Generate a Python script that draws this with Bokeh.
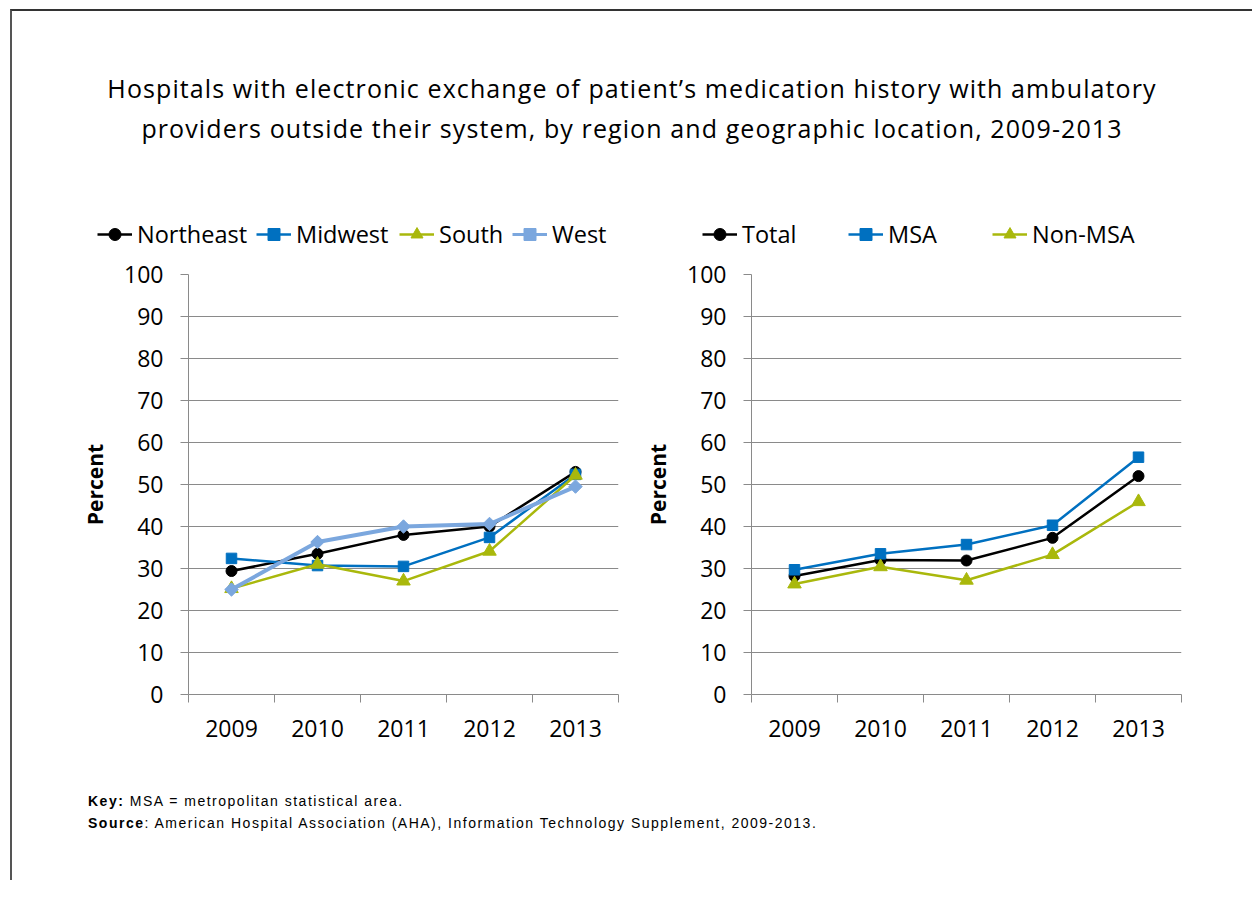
import math
import numpy as np
from bokeh.plotting import figure
from bokeh.models import Legend, LegendItem, FixedTicker, Div, Range1d
from bokeh.layouts import column, row
from bokeh.embed import file_html
from bokeh.resources import INLINE

# ---------------- data ----------------
years = ["2009", "2010", "2011", "2012", "2013"]
northeast = [29.4, 33.5, 38.0, 40.0, 53.0]
midwest = [32.4, 30.7, 30.5, 37.4, 52.4]
south = [25.2, 31.0, 27.0, 34.1, 52.2]
west = [25.0, 36.3, 40.0, 40.6, 49.5]
total = [28.2, 32.0, 31.9, 37.3, 52.0]
msa = [29.7, 33.5, 35.7, 40.3, 56.5]
non_msa = [26.3, 30.4, 27.2, 33.3, 45.9]
y_ticks = list(range(0, 101, 10))

title_lines = [
    "Hospitals with electronic exchange of patient\u2019s medication history with ambulatory",
    "providers outside their system, by region and geographic location, 2009-2013",
]

FONT = "Open Sans"
GRID = "#8a8a8a"
BLACK = "#000000"
BLUE = "#0070C0"
GREEN = "#A9B80C"
LBLUE = "#7BA7DE"

xs = [i + 0.5 for i in range(len(years))]


def make_fig(series, left_border, right_border):
    p = figure(frame_width=430, frame_height=420,
               min_border_left=left_border, min_border_right=right_border,
               min_border_top=15, min_border_bottom=76,
               x_range=Range1d(0, len(years)), y_range=Range1d(0, 100),
               output_backend="svg", toolbar_location=None)
    p.outline_line_color = None
    p.background_fill_color = "white"
    p.border_fill_color = "white"

    xa = p.xaxis[0]
    xa.ticker = FixedTicker(ticks=xs, minor_ticks=list(range(len(years) + 1)))
    xa.major_label_overrides = {x: y for x, y in zip(xs, years)}
    xa.major_tick_line_color = None
    xa.major_tick_out = 0
    xa.major_tick_in = 0
    xa.minor_tick_line_color = GRID
    xa.minor_tick_out = 8
    xa.minor_tick_in = 0
    xa.axis_line_color = GRID
    xa.major_label_text_font = FONT
    xa.major_label_text_font_size = "23px"
    xa.major_label_text_color = BLACK
    xa.major_label_standoff = 17

    ya = p.yaxis[0]
    ya.ticker = FixedTicker(ticks=y_ticks, minor_ticks=[])
    ya.axis_line_color = GRID
    ya.major_tick_line_color = GRID
    ya.major_tick_out = 8
    ya.major_tick_in = 0
    ya.major_label_text_font = FONT
    ya.major_label_text_font_size = "23px"
    ya.major_label_text_color = BLACK
    ya.major_label_standoff = 17
    ya.axis_label = "Percent"
    ya.axis_label_text_font = FONT
    ya.axis_label_text_font_size = "21px"
    ya.axis_label_text_font_style = "bold"
    ya.axis_label_text_color = BLACK
    ya.axis_label_standoff = 12

    p.xgrid.grid_line_color = None
    p.ygrid.ticker = FixedTicker(ticks=y_ticks)
    p.ygrid.grid_line_color = GRID
    p.ygrid.grid_line_width = 1

    for (name, vals, color, lw, marker, size, angle) in series:
        p.line(xs, vals, line_color=color, line_width=lw)
        p.scatter(xs, vals, marker=marker, size=size, angle=angle,
                  fill_color=color, line_color=color)
    return p


def add_legends(lf, series, legend_x):
    nan = np.array([np.nan])
    for (name, vals, color, lw, marker, size, angle), lx in zip(series, legend_x):
        ln = lf.line(nan, nan, line_color=color, line_width=min(lw, 3))
        sc = lf.scatter(nan, nan, marker=marker, size=size, angle=angle,
                        fill_color=color, line_color=color)
        leg = Legend(items=[LegendItem(label=name, renderers=[ln, sc])],
                     location=(lx, 9), orientation="horizontal",
                     glyph_width=35, glyph_height=30, label_height=30,
                     label_standoff=5, padding=0, margin=0, spacing=0,
                     border_line_alpha=0, background_fill_alpha=0,
                     label_text_font=FONT, label_text_font_size="23.5px",
                     label_text_color=BLACK)
        lf.add_layout(leg, "center")


left_series = [
    ("Northeast", northeast, BLACK, 2.5, "circle", 11, 0),
    ("Midwest", midwest, BLUE, 2.5, "square", 10.5, 0),
    ("South", south, GREEN, 2.5, "triangle", 13.5, 0),
    ("West", west, LBLUE, 4, "square", 9.5, math.pi / 4),
]
right_series = [
    ("Total", total, BLACK, 2.5, "circle", 11, 0),
    ("MSA", msa, BLUE, 2.5, "square", 10.5, 0),
    ("Non-MSA", non_msa, GREEN, 2.5, "triangle", 13.5, 0),
]

p1 = make_fig(left_series, 176, 20)
p2 = make_fig(right_series, 113, 50)

LW = 626 + 593
lg = figure(width=LW, height=61, min_border=0,
            x_range=Range1d(0, LW), y_range=Range1d(0, 61),
            x_axis_type=None, y_axis_type=None,
            output_backend="svg", toolbar_location=None)
lg.outline_line_color = None
lg.grid.visible = False
add_legends(lg, left_series, [85, 244, 387, 500])
add_legends(lg, right_series, [690, 836, 980])

title = Div(
    text=('<div style="padding:57px 0 0 16px; width:1224px; text-align:center; '
          'font-family:\'Open Sans\'; font-size:25px; letter-spacing:1.1px; '
          'line-height:40px; color:#000; white-space:nowrap;">'
          + title_lines[0] + "<br>" + title_lines[1] + "</div>"),
    width=1240, height=187, margin=0)

foot = Div(
    text=('<div style="padding:20px 0 0 76px; font-family:\'Liberation Sans\', Arial; '
          'font-size:14px; line-height:22px; letter-spacing:1.5px; color:#000; white-space:nowrap;">'
          '<b>Key:</b> MSA = metropolitan statistical area.<br>'
          '<b>Source</b>: American Hospital Association (AHA), Information Technology '
          'Supplement, 2009-2013.</div>'),
    width=1230, height=110, margin=0)

layout = column(title, lg, row(p1, p2), foot,
                styles={"border-top": "2px solid #333333",
                        "border-left": "2px solid #555555",
                        "margin-left": "10px", "margin-top": "9px"})

open("out.html", "w").write(file_html(layout, INLINE))
